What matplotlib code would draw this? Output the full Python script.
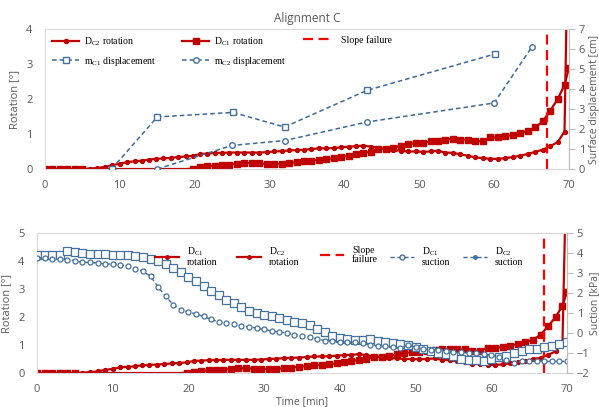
import numpy as np
import matplotlib.pyplot as plt
from matplotlib.lines import Line2D
from matplotlib.legend import Legend

plt.rcParams['font.family'] = ['Open Sans', 'DejaVu Sans']
plt.rcParams['mathtext.fontset'] = 'stix'

RED = '#C00000'
FAIL = '#FF0000'
BLUE = '#3B6A9A'
MBLUE = '#4472A0'
GRID = '#D9D9D9'
TXT = '#595959'

# rotation logger time base [min]
t_rot = [0, 1, 2, 3, 4, 5, 6, 7, 8, 9, 10, 11, 12, 13, 13.9, 14.8, 15.8, 16.8, 17.8, 18.8,
         19.8, 20.7, 21.7, 22.7, 23.6, 24.6, 25.6, 26.6, 27.6, 28.6, 29.6, 30.6, 31.6, 32.6,
         33.6, 34.6, 35.6, 36.6, 37.6, 38.6, 39.6, 40.6, 41.5, 42.5, 43.5, 44.5, 45.5, 46.5,
         47.5, 48.5, 49.5, 50.5, 51.5, 52.5, 53.5, 54.5, 55.5, 56.5, 57.5, 58.5, 59.5, 60.5,
         61.5, 62.5, 63.5, 64.5, 65.5, 66.5, 67.5, 68.5, 69.4]

rot_dc2 = [0, 0, 0, 0, 0, 0, 0.01, 0.03, 0.06, 0.11, 0.15, 0.2, 0.22, 0.24, 0.27, 0.29, 0.3,
           0.32, 0.34, 0.36, 0.38, 0.43, 0.44, 0.46, 0.46, 0.47, 0.47, 0.47, 0.47, 0.47, 0.48,
           0.5, 0.51, 0.53, 0.54, 0.55, 0.57, 0.59, 0.59, 0.6, 0.62, 0.64, 0.65, 0.67, 0.64,
           0.6, 0.57, 0.55, 0.52, 0.5, 0.5, 0.49, 0.5, 0.52, 0.47, 0.46, 0.42, 0.38, 0.33,
           0.31, 0.29, 0.29, 0.31, 0.34, 0.38, 0.43, 0.49, 0.55, 0.65, 0.77, 1.07]
# collapse of D_C2 right at the end
t_dc2_end = [69.8]
rot_dc2_end = [6.0]

rot_dc1 = [0, 0, 0, 0, 0, 0, 0, 0, 0, 0, 0, 0, 0, 0, 0, 0, 0, 0, 0, 0, 0.01, 0.05, 0.08,
           0.09, 0.1, 0.12, 0.15, 0.17, 0.17, 0.16, 0.15, 0.14, 0.15, 0.17, 0.19, 0.22, 0.24,
           0.27, 0.28, 0.31, 0.34, 0.38, 0.43, 0.46, 0.49, 0.57, 0.57, 0.6, 0.67, 0.71, 0.74,
           0.74, 0.79, 0.81, 0.84, 0.86, 0.84, 0.84, 0.79, 0.79, 0.91, 0.9, 0.93, 0.98, 1.03,
           1.09, 1.19, 1.36, 1.67, 2.0, 2.4]
t_dc1_end = [70]
rot_dc1_end = [2.89]

# surface markers
t_mc1 = [8.9, 15, 25.1, 32, 43, 60.1]
disp_mc1 = [0, 2.6, 2.83, 2.1, 3.93, 5.75]
t_mc2 = [15, 25, 32, 43, 60, 65]
disp_mc2 = [0, 1.18, 1.42, 2.35, 3.3, 6.08]

t_failure = 67

# tensiometers
t_suc = list(range(0, 71))
suc_dc1 = [3.88, 3.88, 3.88, 3.9, 4.08, 4.05, 4.0, 3.97, 3.97, 3.95, 3.92, 3.9, 3.88, 3.83,
           3.78, 3.72, 3.6, 3.43, 3.25, 3.05, 2.8, 2.58, 2.35, 2.1, 1.9, 1.65, 1.5, 1.32, 1.12,
           0.98, 0.9, 0.85, 0.75, 0.63, 0.55, 0.5, 0.38, 0.2, 0.05, -0.15, -0.27, -0.32, -0.35,
           -0.33, -0.32, -0.4, -0.45, -0.5, -0.53, -0.6, -0.7, -0.8, -0.9, -0.98, -1.05, -1.15,
           -1.28, -1.33, -1.35, -1.42, -1.3, -1.22, -1.15, -1.0, -0.88, -0.8, -0.78, -0.72,
           -0.65, -0.55, -0.45]
suc_dc2 = [3.75, 3.75, 3.72, 3.7, 3.67, 3.62, 3.53, 3.53, 3.5, 3.45, 3.45, 3.42, 3.33, 3.22,
           3.08, 2.83, 2.3, 1.83, 1.42, 1.17, 1.05, 0.95, 0.83, 0.68, 0.55, 0.5, 0.45, 0.37,
           0.3, 0.25, 0.18, 0.1, 0.05, 0.0, -0.08, -0.13, -0.22, -0.3, -0.38, -0.42, -0.43,
           -0.45, -0.47, -0.5, -0.58, -0.67, -0.67, -0.7, -0.75, -0.6, -0.7, -0.8, -0.83,
           -0.87, -0.9, -0.95, -0.95, -1.0, -1.0, -1.05, -1.1, -1.2, -1.35, -1.5, -1.4, -1.42,
           -1.38, -1.42, -1.42, -1.42, -1.42]

dc1_marks = list(range(0, 6)) + list(range(20, len(t_rot) + 1))

LEG_FONT = {'family': 'Liberation Serif', 'size': 7}


def style_axes(ax, axr, ylim, yrlim, yticks, yrticks):
    ax.set_xlim(0, 70)
    ax.set_ylim(*ylim)
    axr.set_ylim(*yrlim)
    ax.set_xticks(range(0, 71, 10))
    ax.set_yticks(yticks)
    axr.set_yticks(yrticks)
    for s in ax.spines.values():
        s.set_color(GRID)
        s.set_linewidth(0.8)
    for s in axr.spines.values():
        s.set_visible(False)
    axr.spines['right'].set_visible(True)
    axr.spines['right'].set_color('#BFBFBF')
    axr.spines['right'].set_linewidth(0.8)
    ax.tick_params(axis='x', length=0, pad=8, labelsize=8, labelcolor=TXT)
    ax.tick_params(axis='y', length=0, pad=9, labelsize=8, labelcolor=TXT)
    axr.tick_params(axis='y', direction='out', length=4, width=0.8, color='#BFBFBF',
                    pad=3, labelsize=8, labelcolor=TXT)


def plot_rotation(ax):
    ax.plot(t_rot + t_dc1_end, rot_dc1 + rot_dc1_end, color=RED, lw=1.6, marker='s', ms=4.2,
            markevery=dc1_marks)
    ax.plot(t_rot + t_dc2_end, rot_dc2 + rot_dc2_end, color=RED, lw=1.6, marker='o', ms=2.8,
            markevery=list(range(len(t_rot))))
    ax.axvline(t_failure, color=FAIL, lw=1.6, ls=(0, (4.5, 2.5)))


def add_legend(ax, handles, labels, x_px, y_px, **kw):
    leg = Legend(ax, handles, labels, loc='upper left', frameon=False,
                 bbox_to_anchor=(x_px / 599, 1 - y_px / 407), bbox_transform=fig.transFigure,
                 borderpad=0, borderaxespad=0, prop=LEG_FONT, **kw)
    ax.add_artist(leg)
    return leg


fig = plt.figure(figsize=(5.99, 4.07), dpi=100)

# ---- top: rotation and surface displacement
ax1 = fig.add_axes([45 / 599, 1 - 169 / 407, 524 / 599, 140 / 407])
ax1r = ax1.twinx()
plot_rotation(ax1)
ax1r.plot(t_mc1, disp_mc1, color=BLUE, lw=1.1, ls=(0, (3, 2)), marker='s', ms=5,
          mfc='white', mec=MBLUE, mew=1)
ax1r.plot(t_mc2, disp_mc2, color=BLUE, lw=1.1, ls=(0, (3, 2)), marker='o', ms=4,
          mfc='white', mec=MBLUE, mew=1)
style_axes(ax1, ax1r, (0, 4), (0, 7), range(0, 5), range(0, 8))
ax1.set_title('Alignment C', fontsize=8.5, color=TXT, pad=5)
ax1.set_ylabel('Rotation [°]', fontsize=8, color=TXT)
ax1.yaxis.set_label_coords(-0.048, 0.5)
ax1r.set_ylabel('Surface displacement [cm]', fontsize=7.5, color=TXT, rotation=90)
ax1r.yaxis.set_label_coords(1.038, 0.5)

top_cols = [
    ([Line2D([], [], color=RED, lw=1.6, marker='o', ms=3),
      Line2D([], [], color=BLUE, lw=1.1, ls=(0, (3, 2)), marker='s', ms=5, mfc='white', mec=MBLUE)],
     [r'D$_{\mathregular{C2}}$ rotation', r'm$_{\mathregular{C1}}$ displacement'], 52, 0.5),
    ([Line2D([], [], color=RED, lw=1.6, marker='s', ms=5),
      Line2D([], [], color=BLUE, lw=1.1, ls=(0, (3, 2)), marker='o', ms=4, mfc='white', mec=MBLUE)],
     [r'D$_{\mathregular{C1}}$ rotation', r'm$_{\mathregular{C2}}$ displacement'], 182, 0.5),
    ([Line2D([], [], color=FAIL, lw=1.6, ls=(0, (4.5, 2.5)))], ['Slope failure'], 303, 1.1),
]
for handles, labels, x, pad in top_cols:
    add_legend(ax1r, handles, labels, x, 35, handlelength=2.8, handletextpad=pad,
               labelspacing=0.75)

# ---- bottom: rotation and suction
ax2 = fig.add_axes([37 / 599, 1 - 373 / 407, 530 / 599, 140 / 407])
ax2r = ax2.twinx()
plot_rotation(ax2)
ax2r.plot(t_suc, suc_dc1, color=BLUE, lw=1.0, ls=(0, (3, 2)), marker='s', ms=5.2,
          mfc='white', mec=MBLUE, mew=0.9)
ax2r.plot(t_suc, suc_dc2, color=BLUE, lw=1.0, ls=(0, (3, 2)), marker='o', ms=3.6,
          mfc='white', mec=MBLUE, mew=0.9)
style_axes(ax2, ax2r, (0, 5), (-2, 5), range(0, 6), range(-2, 6))
ax2.set_ylabel('Rotation [°]', fontsize=8, color=TXT)
ax2.yaxis.set_label_coords(-0.047, 0.5)
ax2r.set_ylabel('Suction [kPa]', fontsize=7.5, color=TXT, rotation=90)
ax2r.yaxis.set_label_coords(1.042, 0.5)
ax2.set_xlabel('Time [min]', fontsize=7.5, color=TXT)
ax2.xaxis.set_label_coords(0.5, -0.165)

bot_entries = [
    (Line2D([], [], color=RED, lw=1.6, marker='o', ms=2.5),
     'D$_{\\mathregular{C1}}$\nrotation', 155),
    (Line2D([], [], color=RED, lw=1.6, marker='o', ms=2.5),
     'D$_{\\mathregular{C2}}$\nrotation', 237),
    (Line2D([], [], color=FAIL, lw=1.6, ls=(0, (4.5, 2.5))), 'Slope\nfailure', 320),
    (Line2D([], [], color=BLUE, lw=1.0, ls=(0, (3, 2)), marker='o', ms=3.5, mfc='white', mec=MBLUE),
     'D$_{\\mathregular{C1}}$\nsuction', 390),
    (Line2D([], [], color=BLUE, lw=1.0, ls=(0, (3, 2)), marker='o', ms=2.5, mfc=MBLUE, mec=MBLUE),
     'D$_{\\mathregular{C2}}$\nsuction', 463),
]
for handle, label, x in bot_entries:
    leg = add_legend(ax2r, [handle], [label], x, 246, handlelength=2.5, handletextpad=0.8)
    for txt in leg.get_texts():
        txt.set_linespacing(0.95)
        txt.set_multialignment('left')

fig.savefig('out.png', dpi=100)
